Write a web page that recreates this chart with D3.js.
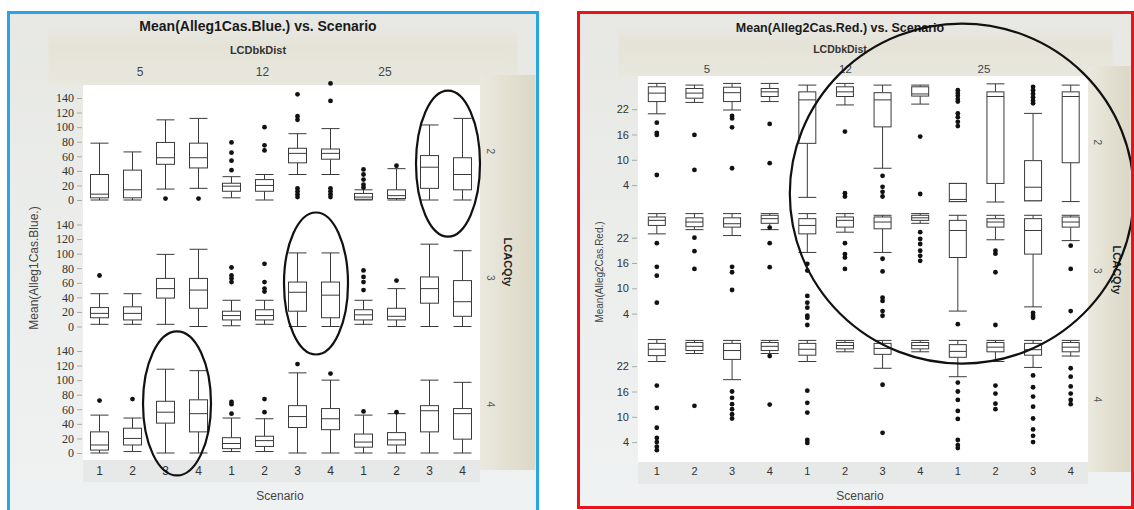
<!DOCTYPE html>
<html>
<head>
<meta charset="utf-8">
<script src="https://cdn.jsdelivr.net/npm/d3@7"></script>
<style>
  html, body { margin: 0; padding: 0; background: #fff; }
  svg { display: block; }
</style>
</head>
<body>
<svg id="chart" width="1134" height="510"></svg>
<script>
// ---- categories ----
const scenarios = [1, 2, 3, 4];
const distances = [5, 12, 25];          // LCDbkDist
const quantities = [2, 3, 4];           // LCACQty
const blueTicks = [0, 20, 40, 60, 80, 100, 120, 140];
const redTicks = [4, 10, 16, 22];

// ---- Mean(Alleg1Cas.Blue.) ----
// one entry per LCDbkDist x Scenario cell: [low whisker, Q1, median, Q3, high whisker]
const blueBoxQty2 = [
  [0, 3, 8, 35, 78], [0, 3, 14, 41, 66], [15, 49, 58, 79, 110], [16, 44, 58, 78, 112],
  [3, 12, 19, 23, 32], [0, 12, 20, 28, 35], [35, 51, 64, 71, 91], [35, 56, 64, 70, 98],
  [0, 1, 4, 9, 14], [0, 2, 6, 14, 43], [0, 16, 45, 61, 103], [0, 14, 35, 58, 112]
];
const blueOutQty2 = [
  [], [], [2], [2],
  [41, 54, 65, 79], [68, 75, 100], [110, 115, 145, 4, 8, 12, 16], [136, 160, 4, 8, 12, 16],
  [17, 21, 28, 35, 42], [47], [], []
];
const blueBoxQty3 = [
  [3, 12, 18, 26, 45], [3, 9, 18, 27, 45], [3, 39, 52, 66, 99], [0, 25, 50, 66, 106],
  [1, 9, 15, 21, 36], [3, 9, 15, 23, 36], [0, 21, 47, 61, 101], [0, 12, 43, 61, 101],
  [3, 9, 16, 23, 36], [0, 9, 14, 25, 52], [0, 32, 52, 68, 113], [0, 14, 34, 63, 104]
];
const blueOutQty3 = [
  [70], [], [], [],
  [61, 66, 70, 81], [48, 52, 61, 86], [], [],
  [50, 61, 68, 77], [63], [], []
];
const blueBoxQty4 = [
  [0, 4, 11, 29, 52], [2, 11, 20, 34, 48], [0, 41, 56, 71, 115], [0, 29, 54, 73, 113],
  [2, 6, 13, 21, 48], [2, 9, 17, 23, 47], [0, 35, 50, 65, 110], [0, 32, 47, 61, 100],
  [0, 8, 15, 26, 52], [0, 11, 18, 28, 54], [0, 29, 58, 65, 100], [0, 19, 54, 61, 97]
];
const blueOutQty4 = [
  [72], [74], [], [],
  [54, 67, 70], [56, 74], [122], [109],
  [57], [56], [], []
];

// ---- Mean(Alleg2Cas.Red.) ----
const redBoxQty2 = [
  [20.9, 23.8, 25.8, 27.3, 28.1], [23.6, 24.6, 25.8, 26.9, 27.7], [21.8, 23.8, 25.9, 27.2, 28.1], [23.8, 25.0, 26.1, 26.9, 28.1],
  [1.1, 13.9, 24.2, 26.1, 27.7], [23.0, 25.0, 26.1, 27.3, 28.1], [8.0, 17.8, 24.2, 25.9, 27.7], [23.2, 25.1, 25.6, 27.3, 27.7],
  [0.1, 0.1, 0.6, 4.4, 4.4], [0.0, 4.4, 25.0, 26.1, 28.0], [0.3, 0.3, 3.5, 9.8, 21.0], [0.1, 9.3, 25.0, 26.1, 27.7]
];
const redOutQty2 = [
  [18.8, 16.4, 15.9, 6.4], [15.9, 7.6], [20.4, 19.8, 17.7, 8.0], [18.5, 9.2],
  [], [16.7, 2.1, 1.3], [6.2, 3.6, 2.4, 1.3], [15.5, 1.9],
  [26.5, 25.8, 25.2, 24.4, 23.8, 21.0, 20.1, 19.0, 18.0], [], [27.3, 26.5, 25.6, 24.8, 24.0, 23.4], []
];
const redBoxQty3 = [
  [22.9, 24.9, 26.1, 26.9, 27.7], [23.9, 24.6, 25.7, 26.7, 27.7], [22.5, 24.5, 25.3, 26.7, 27.7], [23.9, 25.4, 26.5, 27.3, 27.7],
  [18.5, 22.9, 24.9, 26.5, 27.7], [23.3, 24.5, 26.1, 26.9, 27.7], [18.5, 24.1, 25.7, 26.9, 27.3], [25.4, 26.1, 26.7, 27.3, 27.7],
  [4.6, 17.3, 23.7, 26.1, 27.3], [21.5, 24.5, 25.7, 26.5, 27.3], [5.6, 18.1, 23.7, 26.5, 27.3], [21.3, 24.5, 25.7, 26.9, 27.3]
];
const redOutQty3 = [
  [20.7, 15.1, 13.0, 6.6], [22.0, 18.8, 14.6], [15.1, 13.8, 9.6], [24.4, 20.7, 15.0],
  [15.8, 14.2, 8.2, 6.6, 5.4, 3.5, 3.0, 1.3], [20.7, 18.1, 17.3, 14.6], [17.0, 14.0, 7.8, 7.0, 4.6, 3.5], [23.3, 21.7, 20.5, 18.9, 17.7, 16.5],
  [1.5], [18.9, 18.2, 13.8, 1.3], [4.2, 3.5, 3.0], [20.1, 14.6, 4.6]
];
const redBoxQty4 = [
  [23.1, 24.5, 26.0, 27.4, 28.3], [25.0, 25.7, 26.7, 27.6, 28.1], [18.8, 23.6, 25.7, 27.4, 28.1], [25.0, 25.7, 26.7, 27.6, 28.1],
  [23.1, 24.6, 26.0, 27.4, 28.1], [25.4, 26.1, 26.9, 27.6, 28.1], [21.5, 24.8, 26.2, 27.4, 28.1], [25.4, 26.1, 26.9, 27.6, 28.1],
  [19.5, 24.1, 25.5, 27.1, 28.1], [23.1, 25.4, 26.5, 27.6, 28.1], [21.7, 24.6, 25.9, 27.4, 28.1], [24.4, 25.4, 26.5, 27.6, 28.1]
];
const redOutQty4 = [
  [17.4, 12.1, 7.4, 5.0, 4.0, 2.9, 2.1], [12.6], [16.0, 14.5, 13.0, 11.8, 10.6, 9.6], [24.4, 12.9],
  [16.2, 13.3, 11.0, 4.5, 3.8], [], [17.6, 6.2], [],
  [18.1, 16.0, 14.0, 11.4, 9.5, 4.5, 3.3, 2.6], [17.4, 15.5, 13.1, 11.8], [19.8, 17.0, 14.8, 12.4, 9.6, 7.0, 5.5, 4.0], [21.5, 19.5, 17.2, 15.5, 14.0, 13.0]
];

// ---- drawing ----
const svg = d3.select("#chart");
const defs = svg.append("defs");

function linGrad(id, x2, y2, stops) {
  const g = defs.append("linearGradient").attr("id", id)
    .attr("x1", 0).attr("y1", 0).attr("x2", x2).attr("y2", y2);
  stops.forEach(([o, c, a]) => g.append("stop").attr("offset", o)
    .attr("stop-color", c).attr("stop-opacity", a === undefined ? 1 : a));
}
linGrad("panelBg", 0, 1, [[0, "#e7e8e3"], [0.5, "#eceeec"], [1, "#eff2f2"]]);
linGrad("stripBg", 1, 0, [[0, "#ebe9df"], [0.5, "#e3e0d2"], [1, "#dcd8c6"]]);
linGrad("headBg", 0, 1, [[0, "#e4e1d2", 0], [0.35, "#e4e1d2", 0.75], [1, "#e8e6da", 0.6]]);

function drawPanel(p) {
  const g = svg.append("g");

  // frame, header and strip backgrounds
  g.append("rect").attr("x", p.frame.x).attr("y", p.frame.y)
    .attr("width", p.frame.w).attr("height", p.frame.h)
    .attr("fill", "url(#panelBg)");
  g.append("rect").attr("x", p.frame.x + 40).attr("y", p.frame.y + 14)
    .attr("width", p.frame.w - 60).attr("height", p.plot.y0 - p.frame.y - 14)
    .attr("fill", "url(#headBg)");
  g.append("rect").attr("x", p.plot.x1).attr("y", p.plot.y0 - 10)
    .attr("width", p.frame.x + p.frame.w - p.plot.x1 - 2).attr("height", p.plot.y1 - p.plot.y0 + 20)
    .attr("fill", "url(#stripBg)");
  g.append("rect").attr("x", p.plot.x0).attr("y", p.plot.y1)
    .attr("width", p.plot.x1 - p.plot.x0).attr("height", 22)
    .attr("fill", "#e6e9e8");
  g.append("rect").attr("x", p.plot.x0).attr("y", p.plot.y0)
    .attr("width", p.plot.x1 - p.plot.x0).attr("height", p.plot.y1 - p.plot.y0)
    .attr("fill", "#ffffff");

  // scales
  const xGroup = d3.scaleBand().domain(distances).range([p.plot.x0, p.plot.x0 + p.groupW * 3]);
  const xScen = d3.scaleBand().domain(scenarios).range([0, xGroup.bandwidth()]);
  const xc = (d, s) => xGroup(d) + xScen(s) + xScen.bandwidth() / 2;
  const rowBand = d3.scaleBand().domain(quantities).range([p.rowTop, p.rowTop + p.rowStep * 3]);
  const yRow = q => d3.scaleLinear().domain(p.yDomain)
    .range([rowBand(q) + p.zeroOff, rowBand(q) + p.zeroOff - (p.yDomain[1] - p.yDomain[0]) * p.pxPerUnit]);

  // titles
  g.append("text").attr("x", p.titleX).attr("y", p.titleY)
    .attr("text-anchor", "middle").attr("font-family", "Liberation Sans, Arial, sans-serif")
    .attr("font-weight", "bold").attr("font-size", p.titleSize).attr("fill", "#1a1a1a")
    .text(p.title);
  g.append("text").attr("x", p.titleX).attr("y", p.subY)
    .attr("text-anchor", "middle").attr("font-family", "Liberation Sans, Arial, sans-serif")
    .attr("font-weight", "bold").attr("font-size", p.subSize).attr("fill", "#333")
    .text("LCDbkDist");
  const xLab = d3.scalePoint().domain(distances).range(p.distLabelRange);
  g.selectAll(".distLab").data(distances).join("text")
    .attr("x", d => xLab(d)).attr("y", p.distY)
    .attr("text-anchor", "middle").attr("font-family", "Liberation Sans, Arial, sans-serif")
    .attr("font-size", p.subSize + 1).attr("fill", "#444")
    .text(d => d);

  // y axis title, x axis title, strip labels
  g.append("text")
    .attr("transform", `translate(${p.yTitleX},${p.yTitleY}) rotate(-90)`)
    .attr("text-anchor", "middle").attr("font-family", "Liberation Sans, Arial, sans-serif")
    .attr("font-size", p.yTitleSize).attr("fill", "#444").text(p.yTitle);
  g.append("text").attr("x", p.xTitleX).attr("y", p.xTitleY)
    .attr("text-anchor", "middle").attr("font-family", "Liberation Sans, Arial, sans-serif")
    .attr("font-size", 12).attr("fill", "#444").text("Scenario");
  g.append("text")
    .attr("transform", `translate(${p.stripTitleX},${p.stripTitleY}) rotate(90)`)
    .attr("text-anchor", "middle").attr("font-family", "Liberation Sans, Arial, sans-serif")
    .attr("font-weight", "bold").attr("font-size", 11).attr("fill", "#222").text("LCACQty");
  g.selectAll(".qtyLab").data(quantities).join("text")
    .attr("transform", q => `translate(${p.stripLabelX},${rowBand(q) + rowBand.bandwidth() / 2}) rotate(90)`)
    .attr("text-anchor", "middle").attr("font-family", "Liberation Sans, Arial, sans-serif")
    .attr("font-size", 10).attr("fill", "#555").text(q => q);

  // x axes, one per LCDbkDist group
  distances.forEach(d => {
    const ax = g.append("g")
      .attr("transform", `translate(${xGroup(d)},${p.plot.y1})`)
      .call(d3.axisBottom(xScen).tickSize(0).tickPadding(p.xTickPad));
    ax.select(".domain").remove();
    ax.selectAll("text").attr("font-family", "Liberation Sans, Arial, sans-serif")
      .attr("font-size", p.xTickSize).attr("fill", "#333");
  });

  // rows
  quantities.forEach((q, qi) => {
    const y = yRow(q);
    const ay = g.append("g")
      .attr("transform", `translate(${p.plot.x0 - 1},0)`)
      .call(d3.axisLeft(y).tickValues(p.ticks).tickSize(5).tickPadding(3));
    ay.select(".domain").remove();
    ay.selectAll("line").attr("stroke", "#aaa");
    ay.selectAll("text").attr("font-family", p.yTickFont)
      .attr("font-size", p.yTickSize).attr("fill", "#333");

    const cells = distances.flatMap((d, di) => scenarios.map((s, si) => ({
      d, s, box: p.boxes[qi][di * 4 + si], out: p.outliers[qi][di * 4 + si]
    })));

    const cg = g.append("g").attr("stroke", "#3a3a3a").attr("stroke-width", 1).attr("fill", "none");
    const cell = cg.selectAll("g").data(cells).join("g");
    const bw = p.boxW, cw = p.capW;
    // whiskers
    cell.append("line")
      .attr("x1", c => xc(c.d, c.s)).attr("x2", c => xc(c.d, c.s))
      .attr("y1", c => y(c.box[0])).attr("y2", c => y(c.box[1]));
    cell.append("line")
      .attr("x1", c => xc(c.d, c.s)).attr("x2", c => xc(c.d, c.s))
      .attr("y1", c => y(c.box[3])).attr("y2", c => y(c.box[4]));
    // caps
    cell.append("line")
      .attr("x1", c => xc(c.d, c.s) - cw / 2).attr("x2", c => xc(c.d, c.s) + cw / 2)
      .attr("y1", c => y(c.box[0])).attr("y2", c => y(c.box[0]));
    cell.append("line")
      .attr("x1", c => xc(c.d, c.s) - cw / 2).attr("x2", c => xc(c.d, c.s) + cw / 2)
      .attr("y1", c => y(c.box[4])).attr("y2", c => y(c.box[4]));
    // box and median
    cell.append("rect")
      .attr("x", c => xc(c.d, c.s) - bw / 2).attr("width", bw)
      .attr("y", c => y(c.box[3])).attr("height", c => Math.max(1, y(c.box[1]) - y(c.box[3])))
      .attr("fill", "#fff");
    cell.append("line")
      .attr("x1", c => xc(c.d, c.s) - bw / 2).attr("x2", c => xc(c.d, c.s) + bw / 2)
      .attr("y1", c => y(c.box[2])).attr("y2", c => y(c.box[2]));
    // outliers
    cell.selectAll("circle").data(c => c.out.map(v => ({ x: xc(c.d, c.s), v })))
      .join("circle")
      .attr("cx", o => o.x).attr("cy", o => y(o.v)).attr("r", p.dotR)
      .attr("fill", "#111").attr("stroke", "none");
  });

  // hand-drawn highlight rings
  p.rings.forEach(r => {
    const y = yRow(r.q);
    const cx = d3.mean(r.scen, s => xc(r.dist, s)) + r.dx;
    g.append("ellipse")
      .attr("cx", cx).attr("cy", y(r.v)).attr("rx", r.rx).attr("ry", r.ry)
      .attr("fill", "none").attr("stroke", "#111").attr("stroke-width", 2.2);
  });

  // outer frame
  g.append("rect").attr("x", p.frame.x).attr("y", p.frame.y)
    .attr("width", p.frame.w).attr("height", p.frame.h)
    .attr("fill", "none").attr("stroke", p.frameColor).attr("stroke-width", 3);
}

drawPanel({
  frame: { x: 8.5, y: 12.5, w: 529, h: 510 },
  frameColor: "#27a6e3",
  plot: { x0: 83, x1: 480, y0: 85, y1: 460 },
  groupW: 132,
  rowTop: 88, rowStep: 126.5, zeroOff: 112,
  yDomain: [0, 140], pxPerUnit: 102 / 140,
  ticks: blueTicks,
  boxes: [blueBoxQty2, blueBoxQty3, blueBoxQty4],
  outliers: [blueOutQty2, blueOutQty3, blueOutQty4],
  boxW: 18, capW: 18, dotR: 2.4,
  title: "Mean(Alleg1Cas.Blue.) vs. Scenario", titleX: 258, titleY: 31, titleSize: 14,
  subY: 54, subSize: 11, distY: 76, distLabelRange: [140, 385],
  yTitle: "Mean(Alleg1Cas.Blue.)", yTitleX: 38, yTitleY: 268, yTitleSize: 12,
  yTickFont: "Liberation Serif, Times New Roman, serif", yTickSize: 12,
  xTickPad: 6, xTickSize: 12,
  xTitleX: 280, xTitleY: 500,
  stripTitleX: 504, stripTitleY: 262, stripLabelX: 487,
  rings: [
    { dist: 25, scen: [3, 4], q: 2, v: 50, dx: 2, rx: 32, ry: 73 },
    { dist: 12, scen: [3, 4], q: 3, v: 59, dx: 2, rx: 32, ry: 71 },
    { dist: 5, scen: [3, 4], q: 4, v: 68, dx: -5, rx: 34, ry: 72 }
  ]
});

drawPanel({
  frame: { x: 578.5, y: 12.5, w: 554, h: 495 },
  frameColor: "#e8141b",
  plot: { x0: 638, x1: 1088, y0: 76, y1: 462 },
  groupW: 150.5,
  rowTop: 78, rowStep: 128.5, zeroOff: 124,
  yDomain: [0, 28], pxPerUnit: 4.22,
  ticks: redTicks,
  boxes: [redBoxQty2, redBoxQty3, redBoxQty4],
  outliers: [redOutQty2, redOutQty3, redOutQty4],
  boxW: 17, capW: 18, dotR: 2.4,
  title: "Mean(Alleg2Cas.Red.) vs. Scenario", titleX: 840, titleY: 32, titleSize: 12.5,
  subY: 53, subSize: 10.5, distY: 73, distLabelRange: [707, 984],
  yTitle: "Mean(Alleg2Cas.Red.)", yTitleX: 603, yTitleY: 272, yTitleSize: 10,
  yTickFont: "Liberation Sans, Arial, sans-serif", yTickSize: 11,
  xTickPad: 5, xTickSize: 11,
  xTitleX: 860, xTitleY: 500,
  stripTitleX: 1113, stripTitleY: 270, stripLabelX: 1094,
  rings: [
    { dist: 25, scen: [1], q: 2, v: 2, dx: 4, rx: 172, ry: 170 }
  ]
});
</script>
</body>
</html>
